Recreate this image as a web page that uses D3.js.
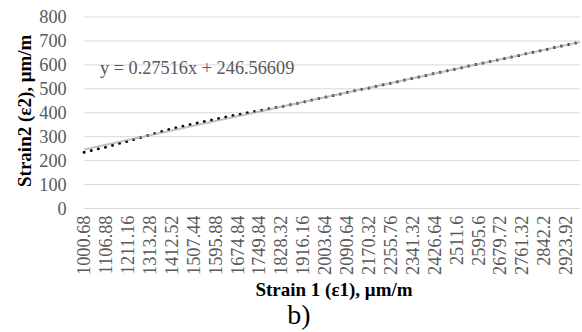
<!DOCTYPE html>
<html>
<head>
<meta charset="utf-8">
<script src="https://cdn.jsdelivr.net/npm/d3@7"></script>
<style>
  html, body { margin: 0; padding: 0; background: #fff; }
  svg { display: block; }
  text { font-family: "Liberation Serif", "Times New Roman", Times, serif; }
</style>
</head>
<body>
<svg id="chart" width="582" height="332"></svg>
<script>
// ---- data ----
const xLabels = ["1000.68","1106.88","1211.16","1313.28","1412.52","1507.44","1595.88",
  "1674.84","1749.84","1828.32","1916.16","2003.64","2090.64","2170.32","2255.76",
  "2341.32","2426.64","2511.6","2595.6","2679.72","2761.32","2842.2","2923.92"];
// Strain2 read at each labelled category, plus the final (unlabelled) category
const strain2 = [235, 257, 282, 308, 333, 354, 374, 392, 409, 426, 445, 465, 485,
  504, 524, 544, 564, 584, 604, 623, 643, 663, 683, 695];
const totalPoints = 1630;      // categories in the series
const labelStep = 72;          // a label every 72 categories
const trendSlope = 0.27516;
const trendIntercept = 246.56609;
const yTicks = [0, 100, 200, 300, 400, 500, 600, 700, 800];

// category index (1-based) of each reading
const sampleIndex = strain2.map((d, i) => i < xLabels.length ? 1 + i * labelStep : totalPoints);
const series = strain2.map((v, i) => ({ idx: sampleIndex[i], v }));

const svg = d3.select("#chart");
const L = 84, R = 580, T = 17, B = 208.5;

const x = d3.scaleLinear().domain([0.5, totalPoints + 0.5]).range([L, R]);
const y = d3.scaleLinear().domain([0, 800]).range([B, T]);

const gray = "#595959";
const tickFont = 18.3;

// gridlines
svg.append("g").selectAll("line").data(yTicks).join("line")
  .attr("x1", L).attr("x2", R)
  .attr("y1", d => y(d)).attr("y2", d => y(d))
  .attr("stroke", "#d9d9d9").attr("stroke-width", 1);

// y axis labels
const yAxis = d3.axisLeft(y).tickValues(yTicks).tickSize(0).tickPadding(0);
const gy = svg.append("g").attr("transform", `translate(${L - 17.3},0)`).call(yAxis);
gy.select(".domain").remove();
gy.attr("font-family", null);
gy.selectAll("text").attr("font-size", tickFont).attr("fill", gray);

// x axis labels (rotated)
const labelCats = xLabels.map((d, i) => 1 + i * labelStep);
const gx = svg.append("g").attr("transform", `translate(0,${B})`);
gx.selectAll("text").data(xLabels).join("text")
  .attr("transform", (d, i) => `translate(${x(labelCats[i])},7) rotate(-90)`)
  .attr("text-anchor", "end").attr("dy", "0.33em")
  .attr("font-size", tickFont).attr("fill", gray)
  .text(d => d);

// linear trendline
const line = d3.line().x(d => x(d.idx)).y(d => y(d.v));
const trend = [1, totalPoints].map(i => ({ idx: i, v: trendIntercept + trendSlope * i }));

// data line (dotted)
svg.append("path").datum(series)
  .attr("d", line).attr("fill", "none")
  .attr("stroke", "#000").attr("stroke-width", 3)
  .attr("stroke-linecap", "round").attr("stroke-dasharray", "0 7.3");

svg.append("path").datum(trend)
  .attr("d", line).attr("fill", "none")
  .attr("stroke", "#a6a6a6").attr("stroke-width", 2).attr("opacity", 0.7);

// equation label
svg.append("text").attr("x", 100).attr("y", 74)
  .attr("font-size", tickFont).attr("fill", gray)
  .text(`y = ${trendSlope}x + ${trendIntercept}`);

// axis titles
svg.append("text")
  .attr("transform", `translate(30.5,${(T + B) / 2 - 2}) rotate(-90)`)
  .attr("text-anchor", "middle")
  .attr("font-size", 19).attr("font-weight", "bold").attr("fill", "#000")
  .text("Strain2 (ε2), μm/m");

svg.append("text")
  .attr("x", 334).attr("y", 296)
  .attr("text-anchor", "middle")
  .attr("font-size", 19).attr("font-weight", "bold").attr("fill", "#000")
  .text("Strain 1 (ε1), μm/m");

svg.append("text")
  .attr("x", 299).attr("y", 324)
  .attr("text-anchor", "middle")
  .attr("font-size", 28).attr("fill", "#000")
  .text("b)");
</script>
</body>
</html>
